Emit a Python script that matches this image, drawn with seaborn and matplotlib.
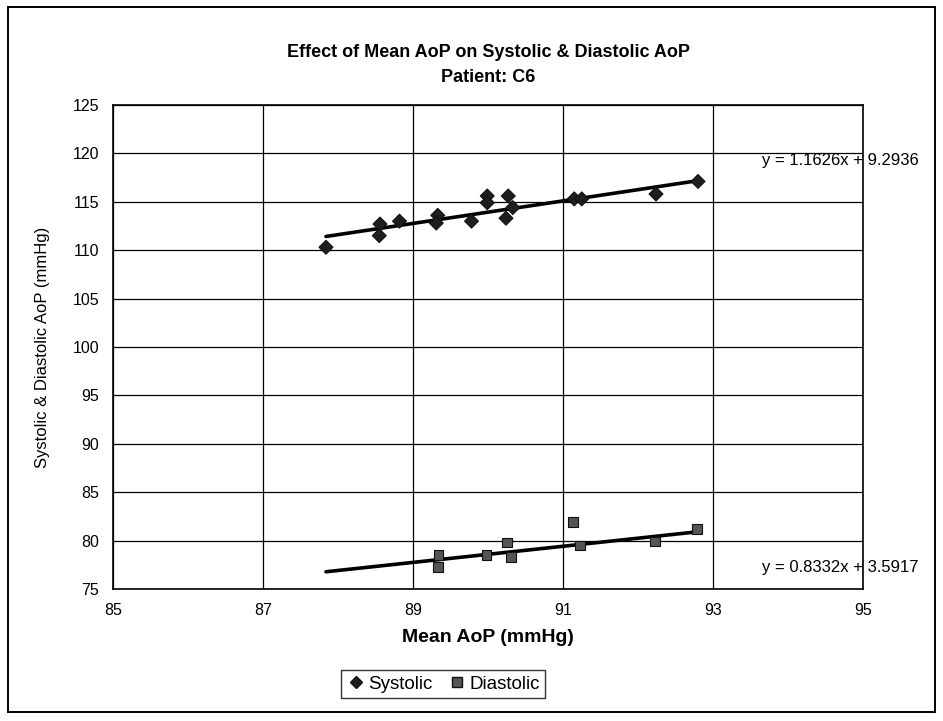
import matplotlib
matplotlib.use("Agg")
import matplotlib.pyplot as plt
from matplotlib.patches import Rectangle
from matplotlib.lines import Line2D
import numpy as np
import pandas as pd
import seaborn as sns

# Measurements: mean aortic pressure vs systolic / diastolic pressure (mmHg)
systolic_x = [87.84, 88.56, 88.55, 88.82, 89.33, 89.31, 89.78, 89.99, 89.99,
              90.27, 90.24, 90.33, 91.15, 91.25, 92.24, 92.80]
systolic_y = [110.3, 112.7, 111.5, 113.0, 113.6, 112.8, 113.0, 115.6, 114.9,
              115.6, 113.3, 114.4, 115.3, 115.3, 115.8, 117.1]

diastolic_x = [89.34, 89.33, 89.98, 90.25, 90.31, 91.13, 91.23, 92.23, 92.79]
diastolic_y = [78.5, 77.3, 78.5, 79.8, 78.3, 81.9, 79.5, 79.9, 81.2]

# Linear trendlines (slope, intercept) over the measured range of mean AoP
series_names = ["Systolic", "Diastolic"]
trend_slopes = [1.1626, 0.8332]
trend_intercepts = [9.2936, 3.5917]
trend_x = [87.84, 92.80]

x_ticks = [85, 87, 89, 91, 93, 95]
y_ticks = [75, 80, 85, 90, 95, 100, 105, 110, 115, 120, 125]

sns.set_theme(style="white")
plt.rcParams["font.family"] = ["Liberation Sans", "DejaVu Sans"]
plt.rcParams["text.color"] = "black"
plt.rcParams["axes.labelcolor"] = "black"

points = pd.concat([
    pd.DataFrame({"mean": systolic_x, "pressure": systolic_y, "series": "Systolic"}),
    pd.DataFrame({"mean": diastolic_x, "pressure": diastolic_y, "series": "Diastolic"}),
], ignore_index=True)

trend_rows = []
for name, m, b in zip(series_names, trend_slopes, trend_intercepts):
    for xv in trend_x:
        trend_rows.append({"mean": xv, "pressure": m * xv + b, "series": name})
trends = pd.DataFrame(trend_rows)

fig = plt.figure(figsize=(9.43, 7.21), dpi=100)
ax = fig.add_axes([0.1198, 0.1831, 0.7954, 0.6713])

# grid
ax.set_axisbelow(True)
ax.grid(True, color="black", linewidth=0.9)

sns.lineplot(data=trends, x="mean", y="pressure", units="series", estimator=None,
             color="black", linewidth=2.6, ax=ax, legend=False)

sns.scatterplot(data=points, x="mean", y="pressure", hue="series", style="series",
                markers={"Systolic": "D", "Diastolic": "s"},
                palette={"Systolic": "#1e1e1e", "Diastolic": "#555555"},
                s=50, edgecolor="#111111", linewidth=0.8, ax=ax, legend=False,
                zorder=5)

ax.set_xlim(85, 95)
ax.set_ylim(75, 125)
ax.set_xticks(x_ticks)
ax.set_yticks(y_ticks)
ax.tick_params(axis="both", direction="inout", length=8, width=1, colors="black",
               labelsize=11.5, pad=6)
for s in ax.spines.values():
    s.set_visible(True)
    s.set_color("black")
    s.set_linewidth(1.2)

ax.set_xlabel("Mean AoP (mmHg)", fontsize=14, fontweight="bold", labelpad=8)
ax.set_ylabel("Systolic & Diastolic AoP (mmHg)", fontsize=12, labelpad=16)

fig.text(0.518, 0.927, "Effect of Mean AoP on Systolic & Diastolic AoP",
         ha="center", va="center", fontsize=13, fontweight="bold")
fig.text(0.518, 0.892, "Patient: C6", ha="center", va="center",
         fontsize=13, fontweight="bold")

# trendline equations
eq_x = 93.65
eq_y = [119.3, 77.2]
for m, b, yv in zip(trend_slopes, trend_intercepts, eq_y):
    ax.text(eq_x, yv, f"y = {m:.4f}x + {b:.4f}", fontsize=12, ha="left",
            va="center", clip_on=False)

handles = [
    Line2D([], [], marker="D", linestyle="none", color="#1e1e1e",
           markeredgecolor="#111111", markersize=6),
    Line2D([], [], marker="s", linestyle="none", color="#555555",
           markeredgecolor="#111111", markersize=7),
]
leg = fig.legend(handles, series_names, loc="center", ncol=2,
                 bbox_to_anchor=(0.47, 0.051), frameon=True, fancybox=False,
                 fontsize=13.5, handletextpad=0.15, columnspacing=0.8,
                 handlelength=1.0, borderpad=0.3)
leg.get_frame().set_edgecolor("black")
leg.get_frame().set_linewidth(1.0)

# outer chart border
fig.patches.append(Rectangle((0.008, 0.012), 0.984, 0.978, transform=fig.transFigure,
                             fill=False, edgecolor="black", linewidth=1.4))

fig.savefig("out.png", dpi=100, facecolor="white")
